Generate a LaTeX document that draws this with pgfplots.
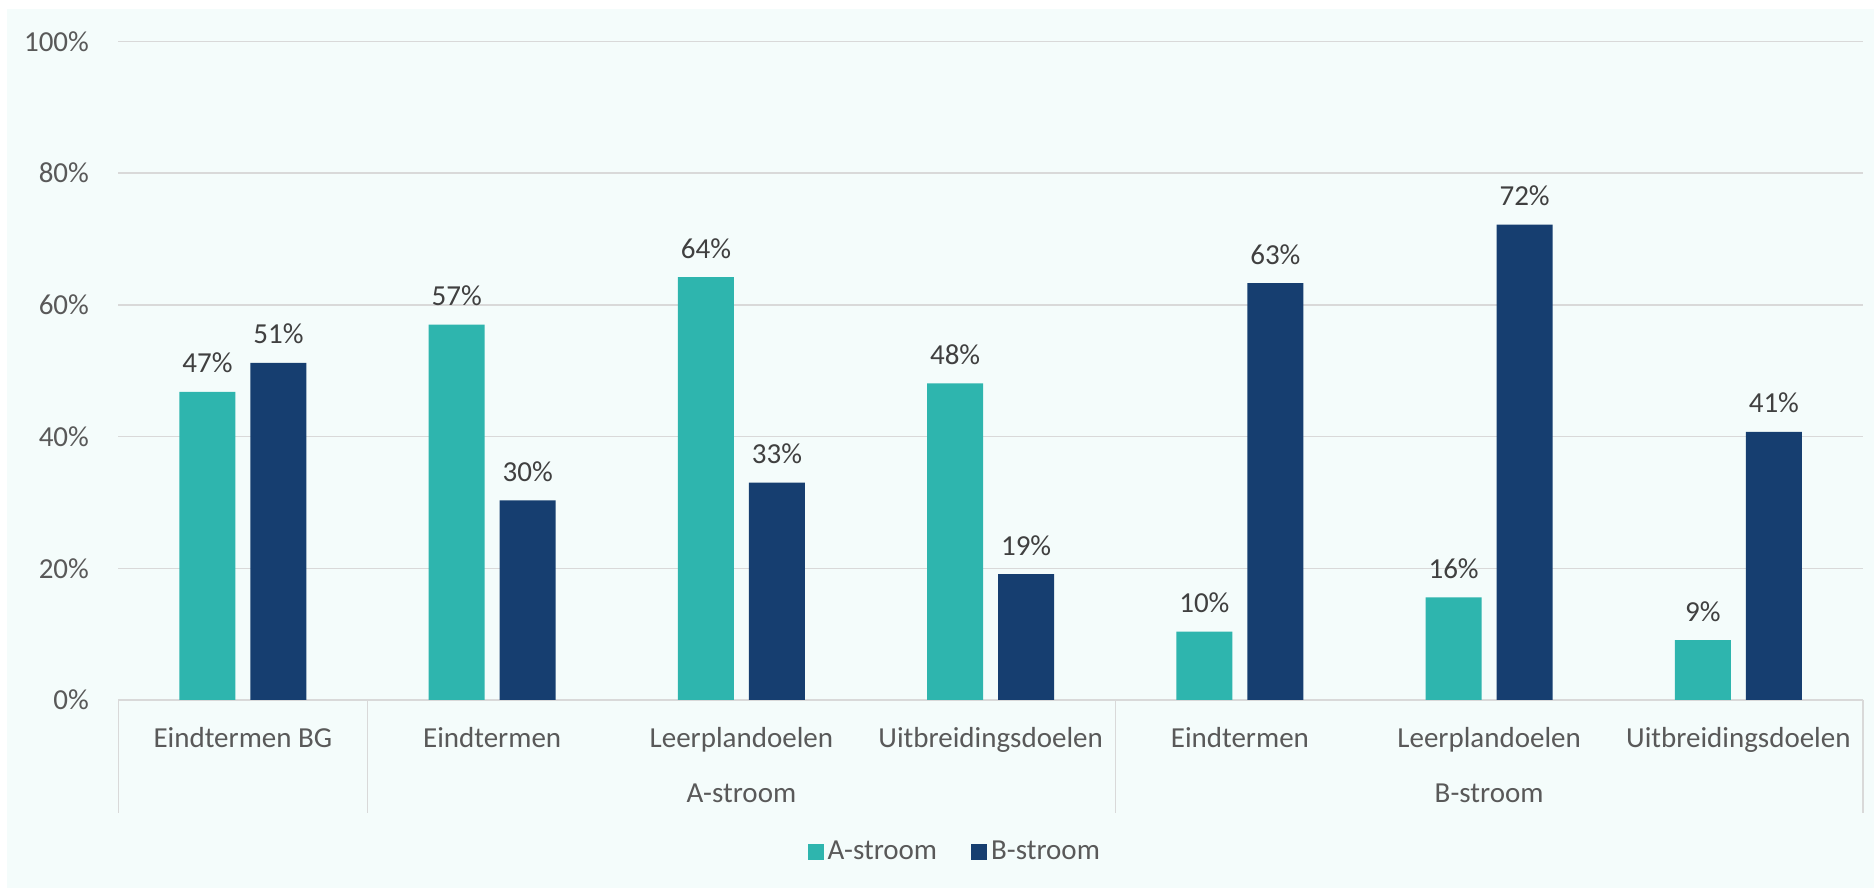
\documentclass[border=0pt]{standalone}
\usepackage{pgfplots}
\pgfplotsset{compat=1.18}
\usepackage{fontspec}
\setmainfont{Carlito}
\definecolor{bgc}{HTML}{F4FCFB}
\definecolor{teal1}{HTML}{2EB5AE}
\definecolor{navy1}{HTML}{163E70}
\definecolor{gridc}{HTML}{D9D9D9}
\definecolor{txt}{HTML}{595959}
\definecolor{vtxt}{HTML}{404040}
\begin{document}
\begin{tikzpicture}
\path (0,0) rectangle (937pt,444pt);
\fill[bgc] (3.5pt,0) rectangle (937pt,439.5pt);
\begin{axis}[
  at={(59.15pt,94pt)}, anchor=south west,
  scale only axis, width=872.35pt, height=329.25pt,
  ybar=7.5pt, bar width=28pt,
  xmin=-0.5, xmax=6.5, ymin=0, ymax=100,
  xtick={0,...,6},
  xticklabels={Eindtermen BG,Eindtermen,Leerplandoelen,Uitbreidingsdoelen,Eindtermen,Leerplandoelen,Uitbreidingsdoelen},
  ytick={0,20,...,100},
  yticklabel={\pgfmathprintnumber{\tick}\%},
  /pgf/number format/assume math mode=true,
  major tick length=0pt,
  axis line style={draw=none},
  ymajorgrids, grid style={gridc, line width=0.7pt},
  tick label style={font=\fontsize{14.5}{17}\selectfont, text=txt},
  xticklabel style={anchor=base, yshift=-23.8pt, inner sep=0pt},
  yticklabel style={anchor=east, inner sep=0pt, xshift=-14.5pt},
  nodes near coords={\pgfmathprintnumber[fixed,precision=0]{\pgfplotspointmeta}\%},
  every node near coord/.append style={font=\fontsize{14.5}{17}\selectfont, text=vtxt, anchor=base, inner sep=0pt, yshift=9.5pt},
  clip=false,
  legend style={at={(0.48,-0.2307)}, anchor=center, draw=none, fill=none,
    font=\fontsize{14.5}{17}\selectfont, text=txt, legend columns=2,
    /tikz/every even column/.append style={column sep=15pt},
    inner sep=0pt},
  legend image code/.code={\fill[#1] (0pt,-4pt) rectangle (8pt,4pt);},
]
\addplot[fill=teal1, draw=none] coordinates {(0,46.8) (1,57.0) (2,64.2) (3,48.1) (4,10.4) (5,15.6) (6,9.1)};
\addplot[fill=navy1, draw=none] coordinates {(0,51.2) (1,30.3) (2,33.0) (3,19.1) (4,63.3) (5,72.2) (6,40.7)};
\legend{A-stroom,B-stroom}
\draw[gridc, line width=0.7pt] (axis cs:-0.5,0) -- ([yshift=-56.5pt]axis cs:-0.5,0);
\draw[gridc, line width=0.7pt] (axis cs:0.5,0) -- ([yshift=-56.5pt]axis cs:0.5,0);
\draw[gridc, line width=0.7pt] (axis cs:3.5,0) -- ([yshift=-56.5pt]axis cs:3.5,0);
\draw[gridc, line width=0.7pt] (axis cs:6.5,0) -- ([yshift=-56.5pt]axis cs:6.5,0);
\node[font=\fontsize{14.5}{17}\selectfont, text=txt, anchor=base, inner sep=0pt] at ([yshift=-51.5pt]axis cs:2,0) {A-stroom};
\node[font=\fontsize{14.5}{17}\selectfont, text=txt, anchor=base, inner sep=0pt] at ([yshift=-51.5pt]axis cs:5,0) {B-stroom};
\end{axis}
\end{tikzpicture}
\end{document}
